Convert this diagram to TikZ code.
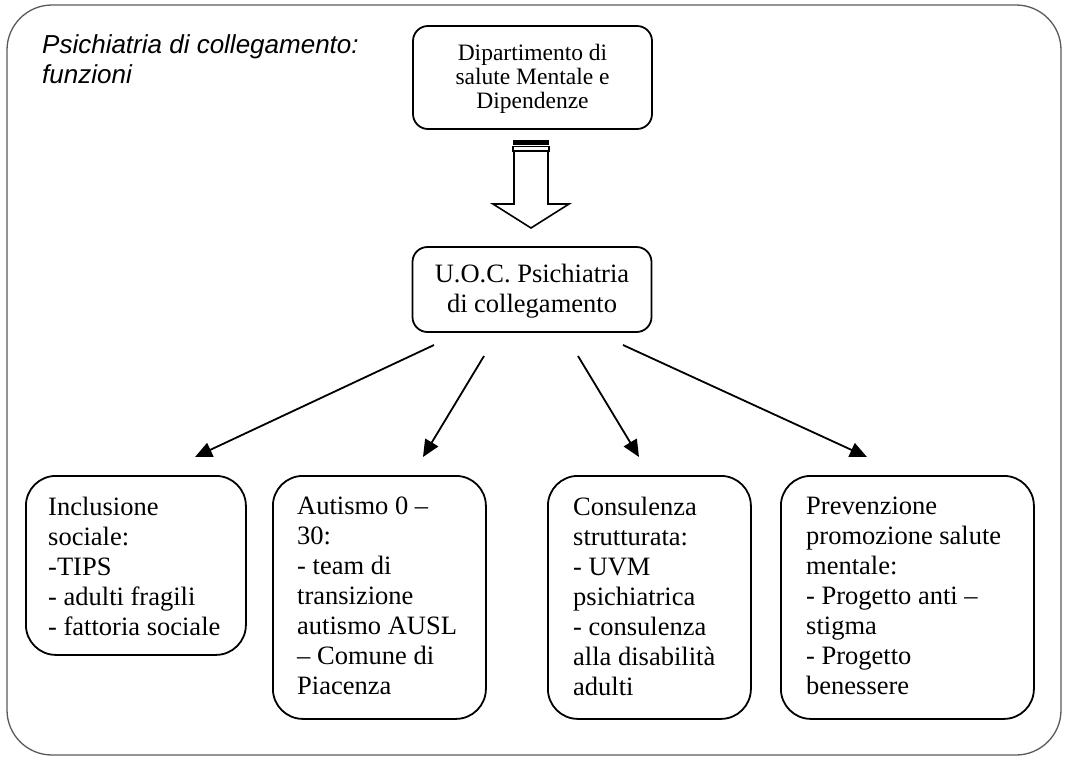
\documentclass[tikz,border=0pt]{standalone}
\usepackage{fontspec}
\setmainfont{Liberation Serif}
\newfontfamily\titlefont{Liberation Sans}
\usetikzlibrary{arrows.meta}
\definecolor{framegray}{HTML}{5A5A5A}
\begin{document}
\begin{tikzpicture}[x=1pt,y=-1pt,
  frame/.style={draw=framegray, line width=1.3pt, rounded corners=45pt},
  topbox/.style={draw, line width=1.8pt, rounded corners=15pt, inner sep=0pt},
  bigbox/.style={draw, line width=1.8pt, rounded corners=30pt, anchor=north west, inner sep=0pt},
  boxtext/.style={anchor=north west, inner sep=0pt, align=left, font=\fontsize{26.5}{30}\selectfont},
  conn/.style={line width=1.8pt, -{Triangle[length=17pt,width=15pt]}},
  hollow/.style={draw, line width=1.6pt, line join=miter}]
\useasboundingbox (0,0) rectangle (1066,756);
\draw[frame] (7,5) rectangle (1061,755);

\node[anchor=north west, inner sep=0pt, align=left, font=\titlefont\itshape\fontsize{26}{30}\selectfont] (title) at (42,34) {Psichiatria di collegamento:\\funzioni};

\node[topbox, minimum width=239pt, minimum height=103pt] (dip) at (532.5,77.5) {};
\node[anchor=north, inner sep=0pt, align=center, font=\fontsize{23.5}{24}\selectfont] (diptext) at (532.5,44) {Dipartimento di\\salute Mentale e\\Dipendenze};
\node[topbox, minimum width=239pt, minimum height=85pt] (uoc) at (532,289.5) {};
\node[anchor=north, inner sep=0pt, align=center, font=\fontsize{26.5}{30}\selectfont] (uoctext) at (532,264) {U.O.C. Psichiatria\\di collegamento};

% hollow striped arrow
\fill (513,140) rectangle (549,144.5);
\draw[line width=1.5pt] (513,146.5) rectangle (549,151);
\draw[hollow] (514,151) -- (514,204) -- (493,204) -- (531,228) -- (569,204) -- (548,204) -- (548,151);

\node[bigbox, minimum width=220pt, minimum height=179pt] (b1) at (25,475) {};
\node[boxtext] (t1) at (48,497) {Inclusione\\sociale:\\-TIPS\\- adulti fragili\\- fattoria sociale};
\node[bigbox, minimum width=213pt, minimum height=243pt] (b2) at (272,475) {};
\node[boxtext] (t2) at (297,497) {Autismo 0 --\\30:\\- team di\\transizione\\autismo AUSL\\-- Comune di\\Piacenza};
\node[bigbox, minimum width=203pt, minimum height=243pt] (b3) at (547,475) {};
\node[boxtext] (t3) at (573,497) {Consulenza\\strutturata:\\- UVM\\psichiatrica\\- consulenza\\alla disabilità\\adulti};
\node[bigbox, minimum width=253pt, minimum height=243pt] (b4) at (780,475) {};
\node[boxtext] (t4) at (806,497) {Prevenzione\\promozione salute\\mentale:\\- Progetto anti --\\stigma\\- Progetto\\benessere};

\coordinate (a1s) at (434,345); \coordinate (a1e) at (195,457);
\coordinate (a2s) at (484,356); \coordinate (a2e) at (423,457);
\coordinate (a3s) at (578,356); \coordinate (a3e) at (639,457);
\coordinate (a4s) at (623,345); \coordinate (a4e) at (867,457);
\draw[conn] (a1s) -- (a1e);
\draw[conn] (a2s) -- (a2e);
\draw[conn] (a3s) -- (a3e);
\draw[conn] (a4s) -- (a4e);
\end{tikzpicture}
\end{document}
